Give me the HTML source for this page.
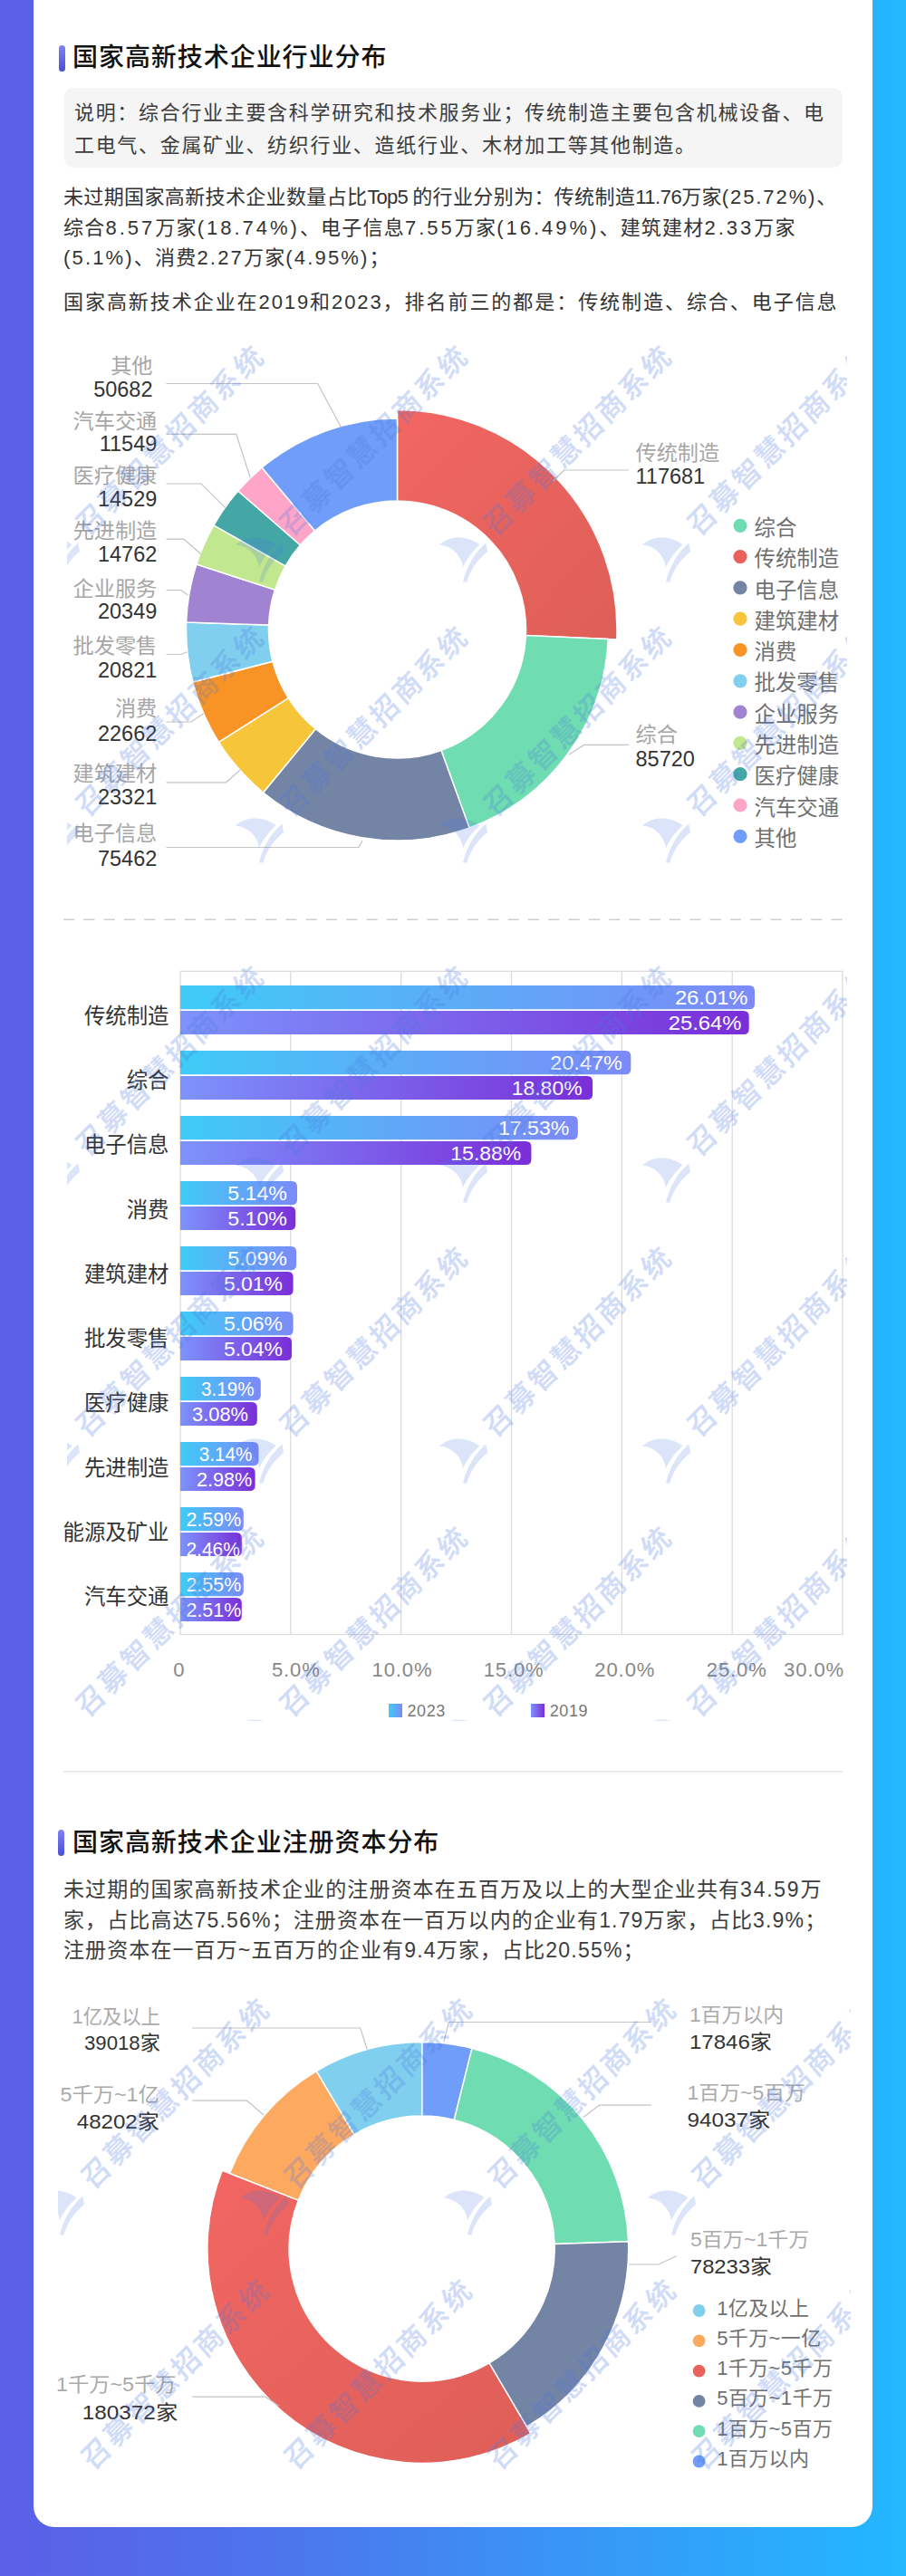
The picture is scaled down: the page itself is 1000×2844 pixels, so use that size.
<!DOCTYPE html>
<html lang="zh-CN">
<head>
<meta charset="utf-8">
<title>国家高新技术企业分布</title>
<style>
html,body{margin:0;padding:0}
body{width:1000px;height:2844px;position:relative;overflow:hidden;background:linear-gradient(90deg,#5b5fe7 0%,#4d74ec 30%,#3a93f5 60%,#22b8ff 100%);font-family:"Liberation Sans","Noto Sans CJK SC",sans-serif;color:#333}
.card{position:absolute;left:37px;top:0;width:926px;height:2790px;background:#fff;border-radius:0 0 23px 23px}
.t{position:absolute;white-space:nowrap;line-height:34px;height:34px;font-size:22px;letter-spacing:1.3px;color:#333}
.h{position:absolute;white-space:nowrap;line-height:40px;height:40px;font-size:28px;letter-spacing:.95px;color:#111;font-weight:500;left:80px}
.pill{position:absolute;left:65px;width:7px;height:29px;border-radius:4px;background:linear-gradient(180deg,#7f83f5,#4a4fd4)}
.note{position:absolute;left:71px;top:97px;width:859px;height:88px;background:#f5f5f5;border-radius:10px}
svg{position:absolute;left:0;top:0}
svg text{font-family:"Liberation Sans","Noto Sans CJK SC",sans-serif}
.wm{position:absolute;overflow:hidden;pointer-events:none}
.wm i{position:absolute;display:block;font-style:normal;font-weight:500;font-size:31.5px;letter-spacing:3.65px;line-height:40px;height:40px;white-space:nowrap;color:#4a78e0;opacity:.255;-webkit-text-stroke:.3px #4a78e0;transform-origin:0 50%;transform:rotate(-45deg) skewX(-4deg)}
.wm svg{position:absolute}
</style>
</head>
<body>
<div class="card"></div>

<div class="pill" style="top:50px"></div>
<div class="h" style="top:44px">国家高新技术企业行业分布</div>
<div class="note"></div>
<div class="t" style="left:82px;top:108px;font-size:22px;letter-spacing:1.68px;color:#3c3c3c">说明：综合行业主要含科学研究和技术服务业；传统制造主要包含机械设备、电</div>
<div class="t" style="left:82px;top:143.5px;font-size:22px;letter-spacing:1.68px;color:#3c3c3c">工电气、金属矿业、纺织行业、造纸行业、木材加工等其他制造。</div>
<div class="t" style="left:70px;top:201px;letter-spacing:.36px">未过期国家高新技术企业数量占比<span style="letter-spacing:-.8px">Top5 </span>的行业分别为：传统制造<span style="letter-spacing:-.5px">11.76</span>万家<span style="letter-spacing:1.9px">(25.72%)</span>、</div>
<div class="t" style="left:70px;top:234.5px;font-size:22px;letter-spacing:1.20px;color:#333">综合<span style="letter-spacing:3.00px">8.57</span>万家<span style="letter-spacing:3.00px">(18.74%)</span>、电子信息<span style="letter-spacing:3.00px">7.55</span>万家<span style="letter-spacing:3.00px">(16.49%)</span>、建筑建材<span style="letter-spacing:3.00px">2.33</span>万家</div>
<div class="t" style="left:70px;top:268px;font-size:22px;letter-spacing:1.20px;color:#333"><span style="letter-spacing:2.17px">(5.1%)</span>、消费<span style="letter-spacing:2.17px">2.27</span>万家<span style="letter-spacing:2.17px">(4.95%)</span>；</div>
<div class="t" style="left:70px;top:316.5px;font-size:22px;letter-spacing:1.95px;color:#333">国家高新技术企业在<span style="letter-spacing:1.90px">2019</span>和<span style="letter-spacing:1.90px">2023</span>，排名前三的都是：传统制造、综合、电子信息</div>
<svg width="1000" height="2844" viewBox="0 0 1000 2844">
<defs>
<linearGradient id="gb" x1="0" y1="0" x2="1" y2="0"><stop offset="0" stop-color="#3fcbf6"/><stop offset="1" stop-color="#7c8af8"/></linearGradient>
<linearGradient id="gp" x1="0" y1="0" x2="1" y2="0"><stop offset="0" stop-color="#7d93fc"/><stop offset="1" stop-color="#7a2ed8"/></linearGradient>
<linearGradient id="gr" x1="0" y1="0" x2="1" y2="1"><stop offset="0" stop-color="#f26662"/><stop offset="1" stop-color="#de5f57"/></linearGradient>
</defs>
<path d="M438.50 452.50A242.5 242.5 0 0 1 680.75 705.97L580.35 701.43A142 142 0 0 0 438.50 553.00Z" fill="url(#gr)" stroke="#fff" stroke-width="1.5" stroke-linejoin="round"/>
<path d="M671.26 705.54A233 233 0 0 1 518.04 914.00L486.97 828.47A142 142 0 0 0 580.35 701.43Z" fill="#6fdcb1" stroke="#fff" stroke-width="1.5" stroke-linejoin="round"/>
<path d="M518.04 914.00A233 233 0 0 1 290.56 875.01L348.34 804.70A142 142 0 0 0 486.97 828.47Z" fill="#7484a5" stroke="#fff" stroke-width="1.5" stroke-linejoin="round"/>
<path d="M290.56 875.01A233 233 0 0 1 241.41 819.28L318.39 770.74A142 142 0 0 0 348.34 804.70Z" fill="#f6c53a" stroke="#fff" stroke-width="1.5" stroke-linejoin="round"/>
<path d="M241.41 819.28A233 233 0 0 1 212.82 752.96L300.96 730.33A142 142 0 0 0 318.39 770.74Z" fill="#f89426" stroke="#fff" stroke-width="1.5" stroke-linejoin="round"/>
<path d="M212.82 752.96A233 233 0 0 1 205.64 686.96L296.58 690.10A142 142 0 0 0 300.96 730.33Z" fill="#80cfee" stroke="#fff" stroke-width="1.5" stroke-linejoin="round"/>
<path d="M205.64 686.96A233 233 0 0 1 216.89 623.04L303.44 651.15A142 142 0 0 0 296.58 690.10Z" fill="#a084d2" stroke="#fff" stroke-width="1.5" stroke-linejoin="round"/>
<path d="M216.89 623.04A233 233 0 0 1 235.92 579.90L315.04 624.85A142 142 0 0 0 303.44 651.15Z" fill="#c1e88e" stroke="#fff" stroke-width="1.5" stroke-linejoin="round"/>
<path d="M235.92 579.90A233 233 0 0 1 262.75 542.03L331.39 601.77A142 142 0 0 0 315.04 624.85Z" fill="#44a6a5" stroke="#fff" stroke-width="1.5" stroke-linejoin="round"/>
<path d="M262.75 542.03A233 233 0 0 1 289.11 516.19L347.46 586.03A142 142 0 0 0 331.39 601.77Z" fill="#fea5c8" stroke="#fff" stroke-width="1.5" stroke-linejoin="round"/>
<path d="M289.11 516.19A233 233 0 0 1 438.50 462.00L438.50 553.00A142 142 0 0 0 347.46 586.03Z" fill="#6f9df9" stroke="#fff" stroke-width="1.5" stroke-linejoin="round"/>
<polyline fill="none" stroke="#c4c4c4" stroke-width="1.2" points="183.5,423.5 350.7,423.5 376.6,472"/>
<polyline fill="none" stroke="#c4c4c4" stroke-width="1.2" points="183.5,479.3 260.8,479.3 276.2,527.3"/>
<polyline fill="none" stroke="#c4c4c4" stroke-width="1.2" points="183.5,534 222,534 248.6,560.4"/>
<polyline fill="none" stroke="#c4c4c4" stroke-width="1.2" points="183.5,595.2 202.8,595.2 222,611.7"/>
<polyline fill="none" stroke="#c4c4c4" stroke-width="1.2" points="183.5,651.5 200,651.5 207.2,657"/>
<polyline fill="none" stroke="#c4c4c4" stroke-width="1.2" points="183.5,722.5 200,722.5 207,719.7"/>
<polyline fill="none" stroke="#c4c4c4" stroke-width="1.2" points="183.5,797 211,797 224.9,787.6"/>
<polyline fill="none" stroke="#c4c4c4" stroke-width="1.2" points="183.5,863.8 249.7,863.8 265,850"/>
<polyline fill="none" stroke="#c4c4c4" stroke-width="1.2" points="183.5,935.5 396,935.5 399.8,928.3"/>
<polyline fill="none" stroke="#c4c4c4" stroke-width="1.2" points="694,519 622.5,519 610.4,531"/>
<polyline fill="none" stroke="#c4c4c4" stroke-width="1.2" points="694,822.4 644.6,822.4 628,832.9"/>
<text x="168.5" y="412.3" text-anchor="end" font-size="23.2" fill="#a6a6a6">其他</text>
<text x="168.5" y="437.6" text-anchor="end" font-size="23.5" fill="#333">50682</text>
<text x="173.3" y="473.3" text-anchor="end" font-size="23.2" fill="#a6a6a6">汽车交通</text>
<text x="173.3" y="498.3" text-anchor="end" font-size="23.5" fill="#333">11549</text>
<text x="173.3" y="532.8" text-anchor="end" font-size="23.2" fill="#a6a6a6">医疗健康</text>
<text x="173.3" y="559" text-anchor="end" font-size="23.5" fill="#333">14529</text>
<text x="173.3" y="593.5" text-anchor="end" font-size="23.2" fill="#a6a6a6">先进制造</text>
<text x="173.3" y="619.7" text-anchor="end" font-size="23.5" fill="#333">14762</text>
<text x="173.3" y="658.0999999999999" text-anchor="end" font-size="23.2" fill="#a6a6a6">企业服务</text>
<text x="173.3" y="682.6" text-anchor="end" font-size="23.5" fill="#333">20349</text>
<text x="173.3" y="721.3" text-anchor="end" font-size="23.2" fill="#a6a6a6">批发零售</text>
<text x="173.3" y="747.6" text-anchor="end" font-size="23.5" fill="#333">20821</text>
<text x="173.3" y="790.3" text-anchor="end" font-size="23.2" fill="#a6a6a6">消费</text>
<text x="173.3" y="817.7" text-anchor="end" font-size="23.5" fill="#333">22662</text>
<text x="173.3" y="862.0999999999999" text-anchor="end" font-size="23.2" fill="#a6a6a6">建筑建材</text>
<text x="173.3" y="887.8" text-anchor="end" font-size="23.5" fill="#333">23321</text>
<text x="173.3" y="928.3" text-anchor="end" font-size="23.2" fill="#a6a6a6">电子信息</text>
<text x="173.3" y="955.7" text-anchor="end" font-size="23.5" fill="#333">75462</text>
<text x="701.5" y="508.0" text-anchor="start" font-size="23.2" fill="#a6a6a6">传统制造</text>
<text x="701.5" y="534.2" text-anchor="start" font-size="23.5" fill="#333">117681</text>
<text x="701.5" y="819.0999999999999" text-anchor="start" font-size="23.2" fill="#a6a6a6">综合</text>
<text x="701.5" y="846.4" text-anchor="start" font-size="23.5" fill="#333">85720</text>
<circle cx="817" cy="580.3" r="7.6" fill="#6fdcb1"/>
<text x="832.5" y="590.9" font-size="23.4" fill="#707070">综合</text>
<circle cx="817" cy="614.6" r="7.6" fill="#e8615b"/>
<text x="832.5" y="625.2" font-size="23.4" fill="#707070">传统制造</text>
<circle cx="817" cy="648.9" r="7.6" fill="#7484a5"/>
<text x="832.5" y="659.5" font-size="23.4" fill="#707070">电子信息</text>
<circle cx="817" cy="683.2" r="7.6" fill="#f6c53a"/>
<text x="832.5" y="693.8" font-size="23.4" fill="#707070">建筑建材</text>
<circle cx="817" cy="717.5" r="7.6" fill="#f89426"/>
<text x="832.5" y="728.1" font-size="23.4" fill="#707070">消费</text>
<circle cx="817" cy="751.8" r="7.6" fill="#80cfee"/>
<text x="832.5" y="762.4" font-size="23.4" fill="#707070">批发零售</text>
<circle cx="817" cy="786.1" r="7.6" fill="#a084d2"/>
<text x="832.5" y="796.7" font-size="23.4" fill="#707070">企业服务</text>
<circle cx="817" cy="820.4" r="7.6" fill="#c1e88e"/>
<text x="832.5" y="831.0" font-size="23.4" fill="#707070">先进制造</text>
<circle cx="817" cy="854.7" r="7.6" fill="#44a6a5"/>
<text x="832.5" y="865.3" font-size="23.4" fill="#707070">医疗健康</text>
<circle cx="817" cy="889.0" r="7.6" fill="#fea5c8"/>
<text x="832.5" y="899.6" font-size="23.4" fill="#707070">汽车交通</text>
<circle cx="817" cy="923.3" r="7.6" fill="#6f9df9"/>
<text x="832.5" y="933.9" font-size="23.4" fill="#707070">其他</text>
<line x1="70" y1="1015.3" x2="930" y2="1015.3" stroke="#cfcfcf" stroke-width="1.6" stroke-dasharray="12.2 10.1"/>
<rect x="199.0" y="1072.3" width="731.0" height="732.2" fill="none" stroke="#dcdcdc" stroke-width="1.3"/>
<line x1="320.8" y1="1072.3" x2="320.8" y2="1804.5" stroke="#dcdcdc" stroke-width="1.3"/>
<line x1="442.7" y1="1072.3" x2="442.7" y2="1804.5" stroke="#dcdcdc" stroke-width="1.3"/>
<line x1="564.5" y1="1072.3" x2="564.5" y2="1804.5" stroke="#dcdcdc" stroke-width="1.3"/>
<line x1="686.3" y1="1072.3" x2="686.3" y2="1804.5" stroke="#dcdcdc" stroke-width="1.3"/>
<line x1="808.2" y1="1072.3" x2="808.2" y2="1804.5" stroke="#dcdcdc" stroke-width="1.3"/>
<path d="M199.0 1088H827.0Q833.0 1088 833.0 1094V1108.3Q833.0 1114.3 827.0 1114.3H199.0Z" fill="url(#gb)"/>
<path d="M199.0 1116H820.7Q826.7 1116 826.7 1122V1136Q826.7 1142 820.7 1142H199.0Z" fill="url(#gp)"/>
<text x="825.5" y="1109.4" text-anchor="end" font-size="22.5" textLength="80.6" lengthAdjust="spacingAndGlyphs" fill="#fff">26.01%</text>
<text x="818.4" y="1137.4" text-anchor="end" font-size="22.5" textLength="80.6" lengthAdjust="spacingAndGlyphs" fill="#fff">25.64%</text>
<text x="186.5" y="1129.7" text-anchor="end" font-size="23.4" fill="#333">传统制造</text>
<path d="M199.0 1160H690.3Q696.3 1160 696.3 1166V1180.3Q696.3 1186.3 690.3 1186.3H199.0Z" fill="url(#gb)"/>
<path d="M199.0 1188H648.1Q654.1 1188 654.1 1194V1208Q654.1 1214 648.1 1214H199.0Z" fill="url(#gp)"/>
<text x="686.8" y="1181.4" text-anchor="end" font-size="22.5" textLength="79.5" lengthAdjust="spacingAndGlyphs" fill="#fff">20.47%</text>
<text x="642.6" y="1209.4" text-anchor="end" font-size="22.5" textLength="77.9" lengthAdjust="spacingAndGlyphs" fill="#fff">18.80%</text>
<text x="186.5" y="1201.0" text-anchor="end" font-size="23.4" fill="#333">综合</text>
<path d="M199.0 1232H631.8Q637.8 1232 637.8 1238V1252.3Q637.8 1258.3 631.8 1258.3H199.0Z" fill="url(#gb)"/>
<path d="M199.0 1260H580.4Q586.4 1260 586.4 1266V1280Q586.4 1286 580.4 1286H199.0Z" fill="url(#gp)"/>
<text x="628.3" y="1253.4" text-anchor="end" font-size="22.5" textLength="78.4" lengthAdjust="spacingAndGlyphs" fill="#fff">17.53%</text>
<text x="575.3" y="1281.4" text-anchor="end" font-size="22.5" textLength="78" lengthAdjust="spacingAndGlyphs" fill="#fff">15.88%</text>
<text x="186.5" y="1272.2" text-anchor="end" font-size="23.4" fill="#333">电子信息</text>
<path d="M199.0 1304H322.0Q328.0 1304 328.0 1310V1324.3Q328.0 1330.3 322.0 1330.3H199.0Z" fill="url(#gb)"/>
<path d="M199.0 1332H320.2Q326.2 1332 326.2 1338V1352Q326.2 1358 320.2 1358H199.0Z" fill="url(#gp)"/>
<text x="316.9" y="1325.4" text-anchor="end" font-size="22.5" textLength="65.6" lengthAdjust="spacingAndGlyphs" fill="#fff">5.14%</text>
<text x="316.9" y="1353.4" text-anchor="end" font-size="22.5" textLength="65.6" lengthAdjust="spacingAndGlyphs" fill="#fff">5.10%</text>
<text x="186.5" y="1343.5" text-anchor="end" font-size="23.4" fill="#333">消费</text>
<path d="M199.0 1376H321.1Q327.1 1376 327.1 1382V1396.3Q327.1 1402.3 321.1 1402.3H199.0Z" fill="url(#gb)"/>
<path d="M199.0 1404H317.6Q323.6 1404 323.6 1410V1424Q323.6 1430 317.6 1430H199.0Z" fill="url(#gp)"/>
<text x="316.9" y="1397.4" text-anchor="end" font-size="22.5" textLength="65.6" lengthAdjust="spacingAndGlyphs" fill="#fff">5.09%</text>
<text x="312" y="1425.4" text-anchor="end" font-size="22.5" textLength="65.1" lengthAdjust="spacingAndGlyphs" fill="#fff">5.01%</text>
<text x="186.5" y="1414.7" text-anchor="end" font-size="23.4" fill="#333">建筑建材</text>
<path d="M199.0 1448H317.6Q323.6 1448 323.6 1454V1468.3Q323.6 1474.3 317.6 1474.3H199.0Z" fill="url(#gb)"/>
<path d="M199.0 1476H316.0Q322.0 1476 322.0 1482V1496Q322.0 1502 316.0 1502H199.0Z" fill="url(#gp)"/>
<text x="312" y="1469.4" text-anchor="end" font-size="22.5" textLength="65.1" lengthAdjust="spacingAndGlyphs" fill="#fff">5.06%</text>
<text x="312" y="1497.4" text-anchor="end" font-size="22.5" textLength="65.1" lengthAdjust="spacingAndGlyphs" fill="#fff">5.04%</text>
<text x="186.5" y="1486.0" text-anchor="end" font-size="23.4" fill="#333">批发零售</text>
<path d="M199.0 1520H281.8Q287.8 1520 287.8 1526V1540.3Q287.8 1546.3 281.8 1546.3H199.0Z" fill="url(#gb)"/>
<path d="M199.0 1548H277.8Q283.8 1548 283.8 1554V1568Q283.8 1574 277.8 1574H199.0Z" fill="url(#gp)"/>
<text x="280.5" y="1541.4" text-anchor="end" font-size="22.5" textLength="58.5" lengthAdjust="spacingAndGlyphs" fill="#fff">3.19%</text>
<text x="273.9" y="1569.4" text-anchor="end" font-size="22.5" textLength="61.8" lengthAdjust="spacingAndGlyphs" fill="#fff">3.08%</text>
<text x="186.5" y="1557.3" text-anchor="end" font-size="23.4" fill="#333">医疗健康</text>
<path d="M199.0 1592H279.4Q285.4 1592 285.4 1598V1612.3Q285.4 1618.3 279.4 1618.3H199.0Z" fill="url(#gb)"/>
<path d="M199.0 1620H275.6Q281.6 1620 281.6 1626V1640Q281.6 1646 275.6 1646H199.0Z" fill="url(#gp)"/>
<text x="278.3" y="1613.4" text-anchor="end" font-size="22.5" textLength="58.5" lengthAdjust="spacingAndGlyphs" fill="#fff">3.14%</text>
<text x="278.3" y="1641.4" text-anchor="end" font-size="22.5" textLength="61.4" lengthAdjust="spacingAndGlyphs" fill="#fff">2.98%</text>
<text x="186.5" y="1628.5" text-anchor="end" font-size="23.4" fill="#333">先进制造</text>
<path d="M199.0 1664H262.8Q268.8 1664 268.8 1670V1684.3Q268.8 1690.3 262.8 1690.3H199.0Z" fill="url(#gb)"/>
<path d="M199.0 1692H260.8Q266.8 1692 266.8 1698V1712Q266.8 1718 260.8 1718H199.0Z" fill="url(#gp)"/>
<text x="266.2" y="1685.4" text-anchor="end" font-size="22.5" textLength="60.7" lengthAdjust="spacingAndGlyphs" fill="#fff">2.59%</text>
<text x="265" y="1717.7" text-anchor="end" font-size="22.5" textLength="59.6" lengthAdjust="spacingAndGlyphs" fill="#fff">2.46%</text>
<text x="186.5" y="1699.8" text-anchor="end" font-size="23.4" fill="#333">能源及矿业</text>
<path d="M199.0 1736H262.8Q268.8 1736 268.8 1742V1756.3Q268.8 1762.3 262.8 1762.3H199.0Z" fill="url(#gb)"/>
<path d="M199.0 1764H260.8Q266.8 1764 266.8 1770V1784Q266.8 1790 260.8 1790H199.0Z" fill="url(#gp)"/>
<text x="266.2" y="1757.4" text-anchor="end" font-size="22.5" textLength="60.7" lengthAdjust="spacingAndGlyphs" fill="#fff">2.55%</text>
<text x="266.2" y="1785.4" text-anchor="end" font-size="22.5" textLength="60.7" lengthAdjust="spacingAndGlyphs" fill="#fff">2.51%</text>
<text x="186.5" y="1771.0" text-anchor="end" font-size="23.4" fill="#333">汽车交通</text>
<text x="197.7" y="1850.8" text-anchor="middle" font-size="22" letter-spacing="0.9" fill="#888">0</text>
<text x="326.8" y="1850.8" text-anchor="middle" font-size="22" letter-spacing="0.9" fill="#888">5.0%</text>
<text x="444" y="1850.8" text-anchor="middle" font-size="22" letter-spacing="0.9" fill="#888">10.0%</text>
<text x="567.1" y="1850.8" text-anchor="middle" font-size="22" letter-spacing="0.9" fill="#888">15.0%</text>
<text x="689.8" y="1850.8" text-anchor="middle" font-size="22" letter-spacing="0.9" fill="#888">20.0%</text>
<text x="813.2" y="1850.8" text-anchor="middle" font-size="22" letter-spacing="0.9" fill="#888">25.0%</text>
<text x="932" y="1850.8" text-anchor="end" font-size="22" letter-spacing="0.9" fill="#888">30.0%</text>
<rect x="429" y="1881" width="15" height="15" fill="url(#gb)"/>
<text x="449.5" y="1895" font-size="18" letter-spacing="0.6" fill="#777">2023</text>
<rect x="586" y="1881" width="15" height="15" fill="url(#gp)"/>
<text x="606.7" y="1895" font-size="18" letter-spacing="0.6" fill="#777">2019</text>
<line x1="70" y1="1955.8" x2="930" y2="1955.8" stroke="#e6e6e6" stroke-width="1.5"/>
<path d="M465.70 2254.60A228 228 0 0 1 521.00 2261.41L501.23 2340.47A146.5 146.5 0 0 0 465.70 2336.10Z" fill="#6f9df9" stroke="#fff" stroke-width="1.5" stroke-linejoin="round"/>
<path d="M521.00 2261.41A228 228 0 0 1 693.56 2474.64L612.11 2477.48A146.5 146.5 0 0 0 501.23 2340.47Z" fill="#6fdcb1" stroke="#fff" stroke-width="1.5" stroke-linejoin="round"/>
<path d="M693.56 2474.64A228 228 0 0 1 581.31 2679.12L539.98 2608.87A146.5 146.5 0 0 0 612.11 2477.48Z" fill="#7484a5" stroke="#fff" stroke-width="1.5" stroke-linejoin="round"/>
<path d="M585.77 2686.70A236.8 236.8 0 0 1 245.22 2396.20L329.30 2429.15A146.5 146.5 0 0 0 539.98 2608.87Z" fill="url(#gr)" stroke="#fff" stroke-width="1.5" stroke-linejoin="round"/>
<path d="M253.42 2399.41A228 228 0 0 1 349.33 2286.53L390.93 2356.62A146.5 146.5 0 0 0 329.30 2429.15Z" fill="#fea960" stroke="#fff" stroke-width="1.5" stroke-linejoin="round"/>
<path d="M349.33 2286.53A228 228 0 0 1 465.70 2254.60L465.70 2336.10A146.5 146.5 0 0 0 390.93 2356.62Z" fill="#80cfee" stroke="#fff" stroke-width="1.5" stroke-linejoin="round"/>
<polyline fill="none" stroke="#c4c4c4" stroke-width="1.2" points="212.3,2239 397.6,2239 405.3,2262.8"/>
<polyline fill="none" stroke="#c4c4c4" stroke-width="1.2" points="212.3,2319.2 272.5,2319.2 291,2335"/>
<polyline fill="none" stroke="#c4c4c4" stroke-width="1.2" points="212.3,2646.2 292.8,2646.2 307.7,2656.2"/>
<polyline fill="none" stroke="#c4c4c4" stroke-width="1.2" points="718.8,2232.5 495.3,2232.5 489.8,2254.5"/>
<polyline fill="none" stroke="#c4c4c4" stroke-width="1.2" points="718.8,2324.2 661.5,2324.2 644,2337.4"/>
<polyline fill="none" stroke="#c4c4c4" stroke-width="1.2" points="746.6,2490.7 726.8,2500 694,2500"/>
<text x="176.8" y="2233.6" text-anchor="end" font-size="22" textLength="97" lengthAdjust="spacingAndGlyphs" fill="#aaa">1亿及以上</text>
<text x="176.8" y="2263.4" text-anchor="end" font-size="22" textLength="83.8" lengthAdjust="spacingAndGlyphs" fill="#333">39018家</text>
<text x="175.8" y="2319.7" text-anchor="end" font-size="22" textLength="109.3" lengthAdjust="spacingAndGlyphs" fill="#aaa">5千万~1亿</text>
<text x="175.8" y="2349.5" text-anchor="end" font-size="22" textLength="91" lengthAdjust="spacingAndGlyphs" fill="#333">48202家</text>
<text x="194.5" y="2640.4" text-anchor="end" font-size="22" textLength="132.5" lengthAdjust="spacingAndGlyphs" fill="#aaa">1千万~5千万</text>
<text x="196.2" y="2670.7" text-anchor="end" font-size="22" textLength="105.4" lengthAdjust="spacingAndGlyphs" fill="#333">180372家</text>
<text x="760.9" y="2231.9" text-anchor="start" font-size="22" textLength="104.3" lengthAdjust="spacingAndGlyphs" fill="#aaa">1百万以内</text>
<text x="760.9" y="2261.7" text-anchor="start" font-size="22" textLength="91" lengthAdjust="spacingAndGlyphs" fill="#333">17846家</text>
<text x="758.5" y="2317.9" text-anchor="start" font-size="22" textLength="130.5" lengthAdjust="spacingAndGlyphs" fill="#aaa">1百万~5百万</text>
<text x="758.5" y="2347.8" text-anchor="start" font-size="22" textLength="91.7" lengthAdjust="spacingAndGlyphs" fill="#333">94037家</text>
<text x="761.9" y="2480.2" text-anchor="start" font-size="22" textLength="131.5" lengthAdjust="spacingAndGlyphs" fill="#aaa">5百万~1千万</text>
<text x="761.9" y="2509.9" text-anchor="start" font-size="22" textLength="90" lengthAdjust="spacingAndGlyphs" fill="#333">78233家</text>
<circle cx="771.6" cy="2551.0" r="6.9" fill="#80cfee"/>
<text x="791.2" y="2555.5" font-size="22" letter-spacing="0.4" fill="#707070">1亿及以上</text>
<circle cx="771.6" cy="2584.3" r="6.9" fill="#fea960"/>
<text x="791.2" y="2588.8" font-size="22" letter-spacing="0.4" fill="#707070">5千万~一亿</text>
<circle cx="771.6" cy="2617.6" r="6.9" fill="#e8615b"/>
<text x="791.2" y="2622.1" font-size="22" letter-spacing="0.4" fill="#707070">1千万~5千万</text>
<circle cx="771.6" cy="2650.9" r="6.9" fill="#7484a5"/>
<text x="791.2" y="2655.4" font-size="22" letter-spacing="0.4" fill="#707070">5百万~1千万</text>
<circle cx="771.6" cy="2684.2" r="6.9" fill="#6fdcb1"/>
<text x="791.2" y="2688.7" font-size="22" letter-spacing="0.4" fill="#707070">1百万~5百万</text>
<circle cx="771.6" cy="2717.5" r="6.9" fill="#6f9df9"/>
<text x="791.2" y="2722.0" font-size="22" letter-spacing="0.4" fill="#707070">1百万以内</text>
</svg>
<div class="pill" style="top:2020px;left:64px"></div>
<div class="h" style="top:2015.3px">国家高新技术企业注册资本分布</div>
<div class="t" style="left:70px;top:2069.4px;font-size:23px;letter-spacing:1.10px;color:#3d3d3d">未过期的国家高新技术企业的注册资本在五百万及以上的大型企业共有<span style="letter-spacing:1.75px">34.59</span>万</div>
<div class="t" style="left:70px;top:2102.6px;font-size:23px;letter-spacing:1.10px;color:#3d3d3d">家，占比高达<span style="letter-spacing:1.17px">75.56%</span>；注册资本在一百万以内的企业有<span style="letter-spacing:1.17px">1.79</span>万家，占比<span style="letter-spacing:1.17px">3.9%</span>；</div>
<div class="t" style="left:70px;top:2135.8px;font-size:23px;letter-spacing:1.10px;color:#3d3d3d">注册资本在一百万<span style="letter-spacing:1.21px">~</span>五百万的企业有<span style="letter-spacing:1.21px">9.4</span>万家，占比<span style="letter-spacing:1.21px">20.55%</span>；</div>
<div class="wm" style="left:74.3px;top:370px;width:860.7px;height:630px">
<i style="left:15.0px;top:194.8px">召募智慧招商系统</i>
<svg style="left:-39.3px;top:222.1px" width="60" height="56" viewBox="0 0 60 56"><path fill="rgba(74,120,224,.2)" d="M0 9.5C12 -1 30 -1 44.5 9.2C36 17 30 25 26 34.5C24.5 22 15 11 0 9.5ZM51.3 7.5L53 17C44 24 34 36 30.4 50.5L26 50.5C30 33 39 18 51.3 7.5Z"/></svg>
<i style="left:239.8px;top:194.8px">召募智慧招商系统</i>
<svg style="left:185.5px;top:222.1px" width="60" height="56" viewBox="0 0 60 56"><path fill="rgba(74,120,224,.2)" d="M0 9.5C12 -1 30 -1 44.5 9.2C36 17 30 25 26 34.5C24.5 22 15 11 0 9.5ZM51.3 7.5L53 17C44 24 34 36 30.4 50.5L26 50.5C30 33 39 18 51.3 7.5Z"/></svg>
<i style="left:464.6px;top:194.8px">召募智慧招商系统</i>
<svg style="left:410.3px;top:222.1px" width="60" height="56" viewBox="0 0 60 56"><path fill="rgba(74,120,224,.2)" d="M0 9.5C12 -1 30 -1 44.5 9.2C36 17 30 25 26 34.5C24.5 22 15 11 0 9.5ZM51.3 7.5L53 17C44 24 34 36 30.4 50.5L26 50.5C30 33 39 18 51.3 7.5Z"/></svg>
<i style="left:689.4px;top:194.8px">召募智慧招商系统</i>
<svg style="left:635.1px;top:222.1px" width="60" height="56" viewBox="0 0 60 56"><path fill="rgba(74,120,224,.2)" d="M0 9.5C12 -1 30 -1 44.5 9.2C36 17 30 25 26 34.5C24.5 22 15 11 0 9.5ZM51.3 7.5L53 17C44 24 34 36 30.4 50.5L26 50.5C30 33 39 18 51.3 7.5Z"/></svg>
<i style="left:15.0px;top:504.5px">召募智慧招商系统</i>
<svg style="left:-39.3px;top:531.8px" width="60" height="56" viewBox="0 0 60 56"><path fill="rgba(74,120,224,.2)" d="M0 9.5C12 -1 30 -1 44.5 9.2C36 17 30 25 26 34.5C24.5 22 15 11 0 9.5ZM51.3 7.5L53 17C44 24 34 36 30.4 50.5L26 50.5C30 33 39 18 51.3 7.5Z"/></svg>
<i style="left:239.8px;top:504.5px">召募智慧招商系统</i>
<svg style="left:185.5px;top:531.8px" width="60" height="56" viewBox="0 0 60 56"><path fill="rgba(74,120,224,.2)" d="M0 9.5C12 -1 30 -1 44.5 9.2C36 17 30 25 26 34.5C24.5 22 15 11 0 9.5ZM51.3 7.5L53 17C44 24 34 36 30.4 50.5L26 50.5C30 33 39 18 51.3 7.5Z"/></svg>
<i style="left:464.6px;top:504.5px">召募智慧招商系统</i>
<svg style="left:410.3px;top:531.8px" width="60" height="56" viewBox="0 0 60 56"><path fill="rgba(74,120,224,.2)" d="M0 9.5C12 -1 30 -1 44.5 9.2C36 17 30 25 26 34.5C24.5 22 15 11 0 9.5ZM51.3 7.5L53 17C44 24 34 36 30.4 50.5L26 50.5C30 33 39 18 51.3 7.5Z"/></svg>
<i style="left:689.4px;top:504.5px">召募智慧招商系统</i>
<svg style="left:635.1px;top:531.8px" width="60" height="56" viewBox="0 0 60 56"><path fill="rgba(74,120,224,.2)" d="M0 9.5C12 -1 30 -1 44.5 9.2C36 17 30 25 26 34.5C24.5 22 15 11 0 9.5ZM51.3 7.5L53 17C44 24 34 36 30.4 50.5L26 50.5C30 33 39 18 51.3 7.5Z"/></svg>
</div>
<div class="wm" style="left:74.3px;top:1054px;width:860.7px;height:846px">
<i style="left:15.0px;top:-113.8px">召募智慧招商系统</i>
<svg style="left:-39.3px;top:-86.5px" width="60" height="56" viewBox="0 0 60 56"><path fill="rgba(74,120,224,.2)" d="M0 9.5C12 -1 30 -1 44.5 9.2C36 17 30 25 26 34.5C24.5 22 15 11 0 9.5ZM51.3 7.5L53 17C44 24 34 36 30.4 50.5L26 50.5C30 33 39 18 51.3 7.5Z"/></svg>
<i style="left:239.8px;top:-113.8px">召募智慧招商系统</i>
<svg style="left:185.5px;top:-86.5px" width="60" height="56" viewBox="0 0 60 56"><path fill="rgba(74,120,224,.2)" d="M0 9.5C12 -1 30 -1 44.5 9.2C36 17 30 25 26 34.5C24.5 22 15 11 0 9.5ZM51.3 7.5L53 17C44 24 34 36 30.4 50.5L26 50.5C30 33 39 18 51.3 7.5Z"/></svg>
<i style="left:464.6px;top:-113.8px">召募智慧招商系统</i>
<svg style="left:410.3px;top:-86.5px" width="60" height="56" viewBox="0 0 60 56"><path fill="rgba(74,120,224,.2)" d="M0 9.5C12 -1 30 -1 44.5 9.2C36 17 30 25 26 34.5C24.5 22 15 11 0 9.5ZM51.3 7.5L53 17C44 24 34 36 30.4 50.5L26 50.5C30 33 39 18 51.3 7.5Z"/></svg>
<i style="left:689.4px;top:-113.8px">召募智慧招商系统</i>
<svg style="left:635.1px;top:-86.5px" width="60" height="56" viewBox="0 0 60 56"><path fill="rgba(74,120,224,.2)" d="M0 9.5C12 -1 30 -1 44.5 9.2C36 17 30 25 26 34.5C24.5 22 15 11 0 9.5ZM51.3 7.5L53 17C44 24 34 36 30.4 50.5L26 50.5C30 33 39 18 51.3 7.5Z"/></svg>
<i style="left:15.0px;top:195.9px">召募智慧招商系统</i>
<svg style="left:-39.3px;top:223.2px" width="60" height="56" viewBox="0 0 60 56"><path fill="rgba(74,120,224,.2)" d="M0 9.5C12 -1 30 -1 44.5 9.2C36 17 30 25 26 34.5C24.5 22 15 11 0 9.5ZM51.3 7.5L53 17C44 24 34 36 30.4 50.5L26 50.5C30 33 39 18 51.3 7.5Z"/></svg>
<i style="left:239.8px;top:195.9px">召募智慧招商系统</i>
<svg style="left:185.5px;top:223.2px" width="60" height="56" viewBox="0 0 60 56"><path fill="rgba(74,120,224,.2)" d="M0 9.5C12 -1 30 -1 44.5 9.2C36 17 30 25 26 34.5C24.5 22 15 11 0 9.5ZM51.3 7.5L53 17C44 24 34 36 30.4 50.5L26 50.5C30 33 39 18 51.3 7.5Z"/></svg>
<i style="left:464.6px;top:195.9px">召募智慧招商系统</i>
<svg style="left:410.3px;top:223.2px" width="60" height="56" viewBox="0 0 60 56"><path fill="rgba(74,120,224,.2)" d="M0 9.5C12 -1 30 -1 44.5 9.2C36 17 30 25 26 34.5C24.5 22 15 11 0 9.5ZM51.3 7.5L53 17C44 24 34 36 30.4 50.5L26 50.5C30 33 39 18 51.3 7.5Z"/></svg>
<i style="left:689.4px;top:195.9px">召募智慧招商系统</i>
<svg style="left:635.1px;top:223.2px" width="60" height="56" viewBox="0 0 60 56"><path fill="rgba(74,120,224,.2)" d="M0 9.5C12 -1 30 -1 44.5 9.2C36 17 30 25 26 34.5C24.5 22 15 11 0 9.5ZM51.3 7.5L53 17C44 24 34 36 30.4 50.5L26 50.5C30 33 39 18 51.3 7.5Z"/></svg>
<i style="left:15.0px;top:505.6px">召募智慧招商系统</i>
<svg style="left:-39.3px;top:533.0px" width="60" height="56" viewBox="0 0 60 56"><path fill="rgba(74,120,224,.2)" d="M0 9.5C12 -1 30 -1 44.5 9.2C36 17 30 25 26 34.5C24.5 22 15 11 0 9.5ZM51.3 7.5L53 17C44 24 34 36 30.4 50.5L26 50.5C30 33 39 18 51.3 7.5Z"/></svg>
<i style="left:239.8px;top:505.6px">召募智慧招商系统</i>
<svg style="left:185.5px;top:533.0px" width="60" height="56" viewBox="0 0 60 56"><path fill="rgba(74,120,224,.2)" d="M0 9.5C12 -1 30 -1 44.5 9.2C36 17 30 25 26 34.5C24.5 22 15 11 0 9.5ZM51.3 7.5L53 17C44 24 34 36 30.4 50.5L26 50.5C30 33 39 18 51.3 7.5Z"/></svg>
<i style="left:464.6px;top:505.6px">召募智慧招商系统</i>
<svg style="left:410.3px;top:533.0px" width="60" height="56" viewBox="0 0 60 56"><path fill="rgba(74,120,224,.2)" d="M0 9.5C12 -1 30 -1 44.5 9.2C36 17 30 25 26 34.5C24.5 22 15 11 0 9.5ZM51.3 7.5L53 17C44 24 34 36 30.4 50.5L26 50.5C30 33 39 18 51.3 7.5Z"/></svg>
<i style="left:689.4px;top:505.6px">召募智慧招商系统</i>
<svg style="left:635.1px;top:533.0px" width="60" height="56" viewBox="0 0 60 56"><path fill="rgba(74,120,224,.2)" d="M0 9.5C12 -1 30 -1 44.5 9.2C36 17 30 25 26 34.5C24.5 22 15 11 0 9.5ZM51.3 7.5L53 17C44 24 34 36 30.4 50.5L26 50.5C30 33 39 18 51.3 7.5Z"/></svg>
<i style="left:15.0px;top:815.3px">召募智慧招商系统</i>
<svg style="left:-39.3px;top:842.7px" width="60" height="56" viewBox="0 0 60 56"><path fill="rgba(74,120,224,.2)" d="M0 9.5C12 -1 30 -1 44.5 9.2C36 17 30 25 26 34.5C24.5 22 15 11 0 9.5ZM51.3 7.5L53 17C44 24 34 36 30.4 50.5L26 50.5C30 33 39 18 51.3 7.5Z"/></svg>
<i style="left:239.8px;top:815.3px">召募智慧招商系统</i>
<svg style="left:185.5px;top:842.7px" width="60" height="56" viewBox="0 0 60 56"><path fill="rgba(74,120,224,.2)" d="M0 9.5C12 -1 30 -1 44.5 9.2C36 17 30 25 26 34.5C24.5 22 15 11 0 9.5ZM51.3 7.5L53 17C44 24 34 36 30.4 50.5L26 50.5C30 33 39 18 51.3 7.5Z"/></svg>
<i style="left:464.6px;top:815.3px">召募智慧招商系统</i>
<svg style="left:410.3px;top:842.7px" width="60" height="56" viewBox="0 0 60 56"><path fill="rgba(74,120,224,.2)" d="M0 9.5C12 -1 30 -1 44.5 9.2C36 17 30 25 26 34.5C24.5 22 15 11 0 9.5ZM51.3 7.5L53 17C44 24 34 36 30.4 50.5L26 50.5C30 33 39 18 51.3 7.5Z"/></svg>
<i style="left:689.4px;top:815.3px">召募智慧招商系统</i>
<svg style="left:635.1px;top:842.7px" width="60" height="56" viewBox="0 0 60 56"><path fill="rgba(74,120,224,.2)" d="M0 9.5C12 -1 30 -1 44.5 9.2C36 17 30 25 26 34.5C24.5 22 15 11 0 9.5ZM51.3 7.5L53 17C44 24 34 36 30.4 50.5L26 50.5C30 33 39 18 51.3 7.5Z"/></svg>
</div>
<div class="wm" style="left:64px;top:2192px;width:875px;height:535px">
<i style="left:30.6px;top:-111.7px">召募智慧招商系统</i>
<svg style="left:-23.7px;top:-84.3px" width="60" height="56" viewBox="0 0 60 56"><path fill="rgba(74,120,224,.2)" d="M0 9.5C12 -1 30 -1 44.5 9.2C36 17 30 25 26 34.5C24.5 22 15 11 0 9.5ZM51.3 7.5L53 17C44 24 34 36 30.4 50.5L26 50.5C30 33 39 18 51.3 7.5Z"/></svg>
<i style="left:255.4px;top:-111.7px">召募智慧招商系统</i>
<svg style="left:201.1px;top:-84.3px" width="60" height="56" viewBox="0 0 60 56"><path fill="rgba(74,120,224,.2)" d="M0 9.5C12 -1 30 -1 44.5 9.2C36 17 30 25 26 34.5C24.5 22 15 11 0 9.5ZM51.3 7.5L53 17C44 24 34 36 30.4 50.5L26 50.5C30 33 39 18 51.3 7.5Z"/></svg>
<i style="left:480.2px;top:-111.7px">召募智慧招商系统</i>
<svg style="left:425.9px;top:-84.3px" width="60" height="56" viewBox="0 0 60 56"><path fill="rgba(74,120,224,.2)" d="M0 9.5C12 -1 30 -1 44.5 9.2C36 17 30 25 26 34.5C24.5 22 15 11 0 9.5ZM51.3 7.5L53 17C44 24 34 36 30.4 50.5L26 50.5C30 33 39 18 51.3 7.5Z"/></svg>
<i style="left:705.0px;top:-111.7px">召募智慧招商系统</i>
<svg style="left:650.7px;top:-84.3px" width="60" height="56" viewBox="0 0 60 56"><path fill="rgba(74,120,224,.2)" d="M0 9.5C12 -1 30 -1 44.5 9.2C36 17 30 25 26 34.5C24.5 22 15 11 0 9.5ZM51.3 7.5L53 17C44 24 34 36 30.4 50.5L26 50.5C30 33 39 18 51.3 7.5Z"/></svg>
<i style="left:30.6px;top:198.0px">召募智慧招商系统</i>
<svg style="left:-23.7px;top:225.3px" width="60" height="56" viewBox="0 0 60 56"><path fill="rgba(74,120,224,.2)" d="M0 9.5C12 -1 30 -1 44.5 9.2C36 17 30 25 26 34.5C24.5 22 15 11 0 9.5ZM51.3 7.5L53 17C44 24 34 36 30.4 50.5L26 50.5C30 33 39 18 51.3 7.5Z"/></svg>
<i style="left:255.4px;top:198.0px">召募智慧招商系统</i>
<svg style="left:201.1px;top:225.3px" width="60" height="56" viewBox="0 0 60 56"><path fill="rgba(74,120,224,.2)" d="M0 9.5C12 -1 30 -1 44.5 9.2C36 17 30 25 26 34.5C24.5 22 15 11 0 9.5ZM51.3 7.5L53 17C44 24 34 36 30.4 50.5L26 50.5C30 33 39 18 51.3 7.5Z"/></svg>
<i style="left:480.2px;top:198.0px">召募智慧招商系统</i>
<svg style="left:425.9px;top:225.3px" width="60" height="56" viewBox="0 0 60 56"><path fill="rgba(74,120,224,.2)" d="M0 9.5C12 -1 30 -1 44.5 9.2C36 17 30 25 26 34.5C24.5 22 15 11 0 9.5ZM51.3 7.5L53 17C44 24 34 36 30.4 50.5L26 50.5C30 33 39 18 51.3 7.5Z"/></svg>
<i style="left:705.0px;top:198.0px">召募智慧招商系统</i>
<svg style="left:650.7px;top:225.3px" width="60" height="56" viewBox="0 0 60 56"><path fill="rgba(74,120,224,.2)" d="M0 9.5C12 -1 30 -1 44.5 9.2C36 17 30 25 26 34.5C24.5 22 15 11 0 9.5ZM51.3 7.5L53 17C44 24 34 36 30.4 50.5L26 50.5C30 33 39 18 51.3 7.5Z"/></svg>
<i style="left:30.6px;top:507.7px">召募智慧招商系统</i>
<svg style="left:-23.7px;top:535.1px" width="60" height="56" viewBox="0 0 60 56"><path fill="rgba(74,120,224,.2)" d="M0 9.5C12 -1 30 -1 44.5 9.2C36 17 30 25 26 34.5C24.5 22 15 11 0 9.5ZM51.3 7.5L53 17C44 24 34 36 30.4 50.5L26 50.5C30 33 39 18 51.3 7.5Z"/></svg>
<i style="left:255.4px;top:507.7px">召募智慧招商系统</i>
<svg style="left:201.1px;top:535.1px" width="60" height="56" viewBox="0 0 60 56"><path fill="rgba(74,120,224,.2)" d="M0 9.5C12 -1 30 -1 44.5 9.2C36 17 30 25 26 34.5C24.5 22 15 11 0 9.5ZM51.3 7.5L53 17C44 24 34 36 30.4 50.5L26 50.5C30 33 39 18 51.3 7.5Z"/></svg>
<i style="left:480.2px;top:507.7px">召募智慧招商系统</i>
<svg style="left:425.9px;top:535.1px" width="60" height="56" viewBox="0 0 60 56"><path fill="rgba(74,120,224,.2)" d="M0 9.5C12 -1 30 -1 44.5 9.2C36 17 30 25 26 34.5C24.5 22 15 11 0 9.5ZM51.3 7.5L53 17C44 24 34 36 30.4 50.5L26 50.5C30 33 39 18 51.3 7.5Z"/></svg>
<i style="left:705.0px;top:507.7px">召募智慧招商系统</i>
<svg style="left:650.7px;top:535.1px" width="60" height="56" viewBox="0 0 60 56"><path fill="rgba(74,120,224,.2)" d="M0 9.5C12 -1 30 -1 44.5 9.2C36 17 30 25 26 34.5C24.5 22 15 11 0 9.5ZM51.3 7.5L53 17C44 24 34 36 30.4 50.5L26 50.5C30 33 39 18 51.3 7.5Z"/></svg>
</div>
</body></html>
